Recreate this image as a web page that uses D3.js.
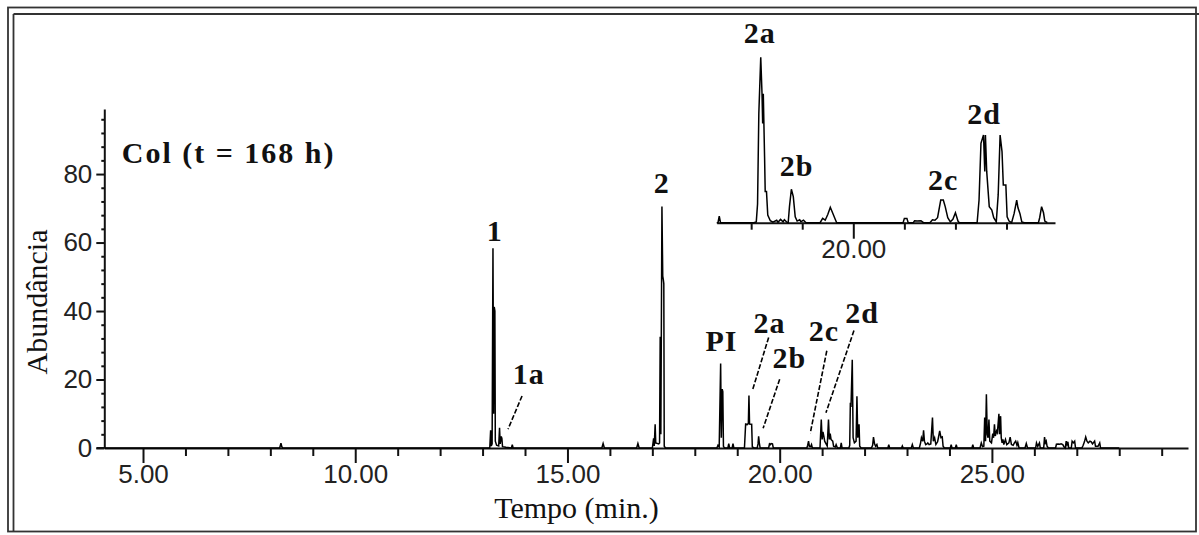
<!DOCTYPE html>
<html><head><meta charset="utf-8">
<script src="https://cdn.jsdelivr.net/npm/d3@7"></script>
<style>html,body{margin:0;padding:0;background:#fff;overflow:hidden}</style>
</head><body><svg id="c" width="1199" height="535"></svg>
<script>
// ---------- DATA ----------
// main total-ion chromatogram: [time (min), abundance]
const mainTrace = [
[4.09,0],
[8.22,0],[8.25,1.4],[8.27,0.4],[8.29,0],
[13.17,0],[13.19,5.2],[13.205,0.6],[13.225,1.2],[13.245,58.3],[13.26,10],[13.275,41.2],[13.29,40],[13.30,2],[13.33,0.8],[13.38,0.6],[13.40,5.9],[13.415,1.2],[13.44,3.4],[13.455,2.8],[13.47,0.4],[13.55,0.2],[13.68,0],[13.70,1.0],[13.72,0],
[15.81,0],[15.84,1.3],[15.87,0],
[16.63,0],[16.66,1.3],[16.69,0],
[17.00,0],[17.03,2.8],[17.045,0.6],[17.066,6.9],[17.08,1.5],[17.15,1.2],[17.17,1.5],[17.185,32.5],[17.20,4],[17.226,70.5],[17.245,50.2],[17.26,49],[17.27,48],[17.28,0.5],[17.31,0],
[18.52,0],[18.546,0.8],[18.575,0.3],[18.609,24.7],[18.625,3],[18.645,17.2],[18.66,16.5],[18.675,0.5],[18.70,0],[18.78,0],[18.80,1.3],[18.82,0],[18.88,0],[18.90,1.3],[18.92,0],
[19.17,0],[19.198,7.0],[19.21,7.0],[19.23,6.8],[19.262,7.2],[19.276,15.3],[19.29,7.0],[19.33,6.9],[19.34,6.9],[19.355,0.3],[19.40,0],
[19.47,0],[19.49,1.2],[19.504,3.4],[19.52,1.5],[19.54,0],[19.74,0],[19.76,1.2],[19.78,1.0],[19.80,1.3],[19.83,1.2],[19.85,0],
[20.64,0],[20.66,0.8],[20.68,2.0],[20.70,0.5],[20.73,0.4],[20.75,1.0],[20.77,0],
[20.95,0],[20.98,8.3],[21.00,2.5],[21.02,4.7],[21.04,3.5],[21.06,2],[21.09,1.3],[21.12,0.6],[21.15,8.3],[21.17,2.5],[21.19,4.2],[21.21,2.5],[21.25,2.0],[21.27,0.5],[21.31,0.3],[21.33,1.0],[21.36,0],[21.43,0],[21.45,1.5],[21.47,0],
[21.63,0],[21.65,0.8],[21.665,13.2],[21.68,12],[21.71,25.8],[21.73,3],[21.76,1.5],[21.80,2],[21.82,15.1],[21.84,3],[21.87,6.9],[21.885,0.5],[21.92,0],
[22.16,0],[22.19,0.8],[22.21,3.2],[22.235,1.2],[22.26,0.5],[22.29,1.0],[22.31,0],[22.55,0],[22.57,1.0],[22.59,0],[22.87,0],[22.89,0.6],[22.91,0],[23.10,0],[23.125,1.0],[23.15,0],
[23.29,0],[23.32,1.5],[23.34,3.0],[23.37,2],[23.39,5.2],[23.41,2.0],[23.44,1.0],[23.47,1.2],[23.49,1.5],[23.52,1.0],[23.56,1.2],[23.60,8.9],[23.62,2.0],[23.65,3.0],[23.68,1.0],[23.72,1.8],[23.74,3],[23.77,5.0],[23.80,3],[23.83,3.2],[23.85,0.5],[23.88,0],
[24.02,0],[24.04,1.0],[24.06,0],[24.14,0],[24.16,1.0],[24.18,0],[24.53,0],[24.55,1.0],[24.57,0],[24.72,0],[24.75,1.5],[24.78,0.4],
[24.81,0.5],[24.83,8.9],[24.85,2],[24.87,15.7],[24.89,4],[24.91,3],[24.93,8.3],[24.95,2],[24.99,1.5],[25.02,4.2],[25.04,3],[25.06,6.9],[25.08,3.5],[25.11,5],[25.13,4.5],[25.165,10.0],[25.18,4],[25.205,9.3],[25.22,3],[25.24,1.5],[25.26,2.5],[25.28,1],[25.32,2.5],[25.35,1.0],[25.40,1.5],[25.43,3.2],[25.46,1.0],[25.50,0.8],[25.53,1.5],[25.56,2.0],[25.59,0.8],[25.61,1.6],[25.64,0],
[25.78,0],[25.81,1.3],[25.84,0],[26.03,0],[26.05,1.5],[26.08,0.5],[26.12,1.5],[26.14,0],[26.22,0],[26.24,3.2],[26.26,1.5],[26.28,2.0],[26.30,0.5],[26.33,0],
[26.50,0],[26.52,1.1],[26.56,1.2],[26.60,1.1],[26.63,1.2],[26.67,1.0],[26.70,0.3],[26.73,0],[26.75,2.0],[26.77,1.0],[26.79,1.8],[26.81,0],[26.87,0],[26.89,2.0],[26.92,1.5],[26.95,2.0],[26.97,0],
[27.12,0],[27.15,0.8],[27.18,1.8],[27.21,3.2],[27.24,2.0],[27.27,1.5],[27.31,2.0],[27.34,1.8],[27.37,1.2],[27.42,2.0],[27.44,0.5],[27.50,0.5],[27.54,1.5],[27.56,0],
[28.0,0]
];
// inset (expanded 19-21.5 min region), relative intensity (2a = 100)
const insetTrace = [
[18.93,0],[18.94,0],[18.95,4],[18.96,0],[19.22,0],[19.24,0.5],[19.25,11.3],[19.26,66],[19.275,100],[19.285,78],[19.29,60],[19.295,78],[19.305,40],[19.31,18.8],[19.32,18.8],[19.33,4.6],[19.35,1.2],[19.37,0.3],[19.40,1.5],[19.41,0.3],[19.43,2.0],[19.45,0.5],[19.46,1.8],[19.48,0.3],[19.49,0],
[19.50,9.7],[19.515,20.2],[19.53,15.8],[19.545,3.6],[19.56,1.0],[19.58,1.8],[19.59,0.6],[19.61,1.5],[19.63,0],
[19.74,0],[19.76,2.6],[19.78,1.5],[19.80,5],[19.82,9.3],[19.84,5.6],[19.86,1.8],[19.87,0],
[20.39,0],[20.40,2.6],[20.42,2.6],[20.43,0],[20.47,0],[20.48,1.2],[20.50,1.0],[20.53,1.2],[20.55,0],[20.60,0],[20.62,1.8],[20.64,1.5],[20.66,3],[20.685,13.7],[20.705,13.7],[20.72,9.7],[20.74,3],[20.76,0.5],[20.78,2],[20.80,6],[20.82,1],[20.83,0],
[20.97,0],[20.985,13.7],[21.00,48],[21.02,53],[21.03,31],[21.035,53],[21.045,31],[21.065,9.7],[21.085,7.7],[21.10,3],[21.12,0.5],[21.135,16.8],[21.15,53],[21.165,43],[21.175,22.8],[21.195,22.8],[21.205,3.6],[21.22,1],[21.24,0],[21.26,5.6],[21.28,13.7],[21.29,9],[21.305,5.6],[21.32,0.5],[21.34,0],
[21.45,0],[21.46,3],[21.475,9.7],[21.49,6],[21.50,1],[21.52,0]
];
const xMajorTicks = [5, 10, 15, 20, 25];
const xTickLabels = ["5.00", "10.00", "15.00", "20.00", "25.00"];
const yMajorTicks = [0, 20, 40, 60, 80];
const yTickLabels = ["0", "20", "40", "60", "80"];
const insetMajorTicks = [20];
const insetTickLabels = ["20.00"];
const insetMinorTicks = [19.2, 19.6, 20.4, 20.8, 21.2];
// peak annotations (time, abundance of label baseline)
const peakLabels = [
  {text:"1", t:13.285, v:60.5}, {text:"2", t:17.22, v:74.4}, {text:"1a", t:14.09, v:18.7},
  {text:"PI", t:18.63, v:28.3}, {text:"2a", t:19.76, v:33.6}, {text:"2b", t:20.23, v:23.4},
  {text:"2c", t:21.04, v:31.3}, {text:"2d", t:21.94, v:36.4}
];
const leaders = [
  [13.93,15.2,13.60,5.5], [19.74,32.3,19.36,16.9], [20.0,20.1,19.61,5.75],
  [21.11,28.4,20.72,4.3], [21.75,34.3,21.09,10.3]
];
const insetLabels = [
  {text:"2a", t:19.268, v:108.5}, {text:"2b", t:19.556, v:28.2},
  {text:"2c", t:20.704, v:19.8}, {text:"2d", t:21.025, v:59.7}
];
const titleText = "Col (t = 168 h)";
const xTitle = "Tempo (min.)";
const yTitle = "Abundância";

// ---------- DRAW ----------
const svg = d3.select("#c");
const ink = "#111";
const serif = "'Liberation Serif','Times New Roman',serif";
const narrow = "'Liberation Sans Narrow','Arial Narrow','Liberation Sans',sans-serif";

// window frame
svg.append("rect").attr("x",8).attr("y",7.5).attr("width",1188).attr("height",524)
   .attr("fill","none").attr("stroke","#333").attr("stroke-width",1.8);
svg.append("line").attr("x1",13.5).attr("x2",1199).attr("y1",14).attr("y2",14).attr("stroke","#333").attr("stroke-width",1.8);
svg.append("line").attr("x1",13.5).attr("x2",13.5).attr("y1",14).attr("y2",531).attr("stroke","#333").attr("stroke-width",1.8);

const x = d3.scaleLinear().domain([4.088, 29.62]).range([104.3, 1188]);
const y = d3.scaleLinear().domain([0, 99]).range([448, 109]);

// x axis
const gx = svg.append("g").attr("transform","translate(0,448)");
gx.call(d3.axisBottom(x).tickValues(d3.range(5,30,1).filter(d=>!xMajorTicks.includes(d)))
   .tickSize(8).tickSizeOuter(0).tickFormat(""));
gx.call(g=>g.select(".domain").remove());
const gx2 = svg.append("g").attr("transform","translate(0,448)");
gx2.call(d3.axisBottom(x).tickValues(xMajorTicks).tickSize(15).tickSizeOuter(0).tickPadding(2)
   .tickFormat((d,i)=>xTickLabels[i]));
svg.selectAll("g.tick line").attr("stroke",ink).attr("stroke-width",2);
gx2.select(".domain").attr("stroke",ink).attr("stroke-width",2);
gx2.selectAll("text").attr("font-family",narrow).attr("font-size",26).attr("fill","#222");
svg.append("line").attr("x1",96.5).attr("x2",104.3).attr("y1",448).attr("y2",448).attr("stroke",ink).attr("stroke-width",2);

// y axis
const gy = svg.append("g").attr("transform","translate(104.3,0)");
gy.call(d3.axisLeft(y).tickValues(d3.range(0,99,4).filter(d=>!yMajorTicks.includes(d))).tickSize(3).tickSizeOuter(0).tickFormat(""));
gy.call(g=>g.select(".domain").remove());
const gy2 = svg.append("g").attr("transform","translate(104.3,0)");
gy2.call(d3.axisLeft(y).tickValues(yMajorTicks).tickSize(8).tickSizeOuter(0).tickPadding(4)
   .tickFormat((d,i)=>yTickLabels[i]));
gy2.select(".domain").attr("stroke",ink).attr("stroke-width",2);
svg.selectAll("g.tick line").attr("stroke",ink).attr("stroke-width",2);
gy2.selectAll("text").attr("font-family",narrow).attr("font-size",26).attr("fill","#222");

// titles
svg.append("text").attr("x",576.5).attr("y",518).attr("text-anchor","middle")
   .attr("font-family",serif).attr("font-size",30).attr("fill",ink).text(xTitle);
svg.append("text").attr("transform","translate(47,302) rotate(-90)").attr("text-anchor","middle")
   .attr("font-family",serif).attr("font-size",30).attr("fill",ink).text(yTitle);
svg.append("text").attr("x",x(4.5)).attr("y",y(83.2))
   .attr("font-family",serif).attr("font-weight","bold").attr("font-size",30).attr("letter-spacing",2)
   .attr("fill",ink).text(titleText);

// chromatogram
const line = d3.line().x(d=>x(d[0])).y(d=>y(d[1]));
svg.append("path").datum(mainTrace).attr("d",line).attr("fill","none")
   .attr("stroke","#000").attr("stroke-width",1.5).attr("stroke-linejoin","miter");

// leader lines
svg.selectAll(".lead").data(leaders).join("line")
   .attr("x1",d=>x(d[0])).attr("y1",d=>y(d[1])).attr("x2",d=>x(d[2])).attr("y2",d=>y(d[3]))
   .attr("stroke","#000").attr("stroke-width",1.6).attr("stroke-dasharray","5,2");

// peak labels
svg.selectAll(".pl").data(peakLabels).join("text")
   .attr("x",d=>x(d.t)).attr("y",d=>y(d.v)).attr("text-anchor","middle")
   .attr("font-family",serif).attr("font-weight","bold").attr("font-size",30).attr("letter-spacing",1)
   .attr("fill",ink).text(d=>d.text);

// inset
const xi = d3.scaleLinear().domain([18.93, 21.58]).range([716.7, 1055]);
const yi = d3.scaleLinear().domain([0, 100]).range([222.7, 57.3]);
const gi = svg.append("g").attr("transform","translate(0,222.7)");
gi.call(d3.axisBottom(xi).tickValues(insetMinorTicks).tickSize(7).tickSizeOuter(0).tickFormat(""));
gi.select(".domain").remove();
const gi2 = svg.append("g").attr("transform","translate(0,222.7)");
gi2.call(d3.axisBottom(xi).tickValues(insetMajorTicks).tickSize(16).tickSizeOuter(0).tickPadding(1)
   .tickFormat((d,i)=>insetTickLabels[i]));
gi2.select(".domain").attr("stroke",ink).attr("stroke-width",2);
gi.selectAll("line").attr("stroke",ink).attr("stroke-width",2);
gi2.selectAll("line").attr("stroke",ink).attr("stroke-width",2);
gi2.selectAll("text").attr("font-family",narrow).attr("font-size",26).attr("fill","#222");
svg.append("path").datum(insetTrace).attr("d",d3.line().x(d=>xi(d[0])).y(d=>yi(d[1])))
   .attr("fill","none").attr("stroke","#000").attr("stroke-width",1.5);
svg.selectAll(".il").data(insetLabels).join("text")
   .attr("x",d=>xi(d.t)).attr("y",d=>yi(d.v)).attr("text-anchor","middle")
   .attr("font-family",serif).attr("font-weight","bold").attr("font-size",30).attr("letter-spacing",1)
   .attr("fill",ink).text(d=>d.text);
</script></body></html>
